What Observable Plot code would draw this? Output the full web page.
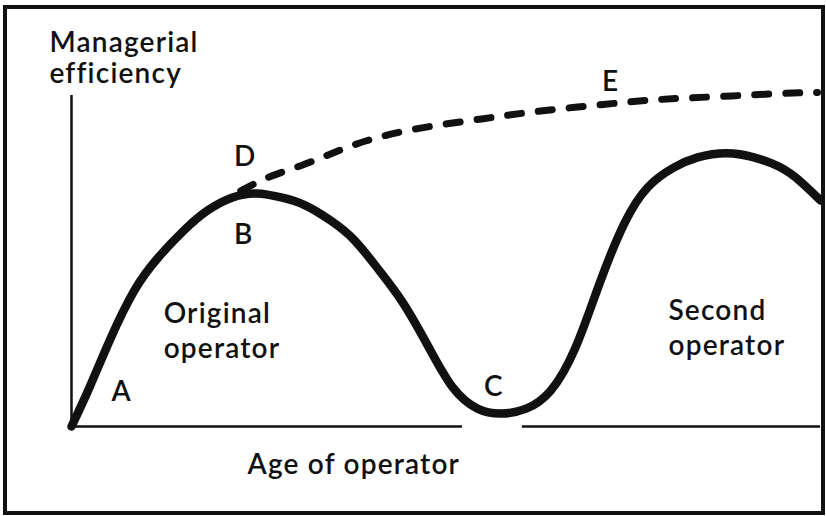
<!DOCTYPE html>
<html>
<head>
<meta charset="utf-8">
<script src="https://cdn.jsdelivr.net/npm/d3@7"></script>
<script src="https://cdn.jsdelivr.net/npm/@observablehq/plot@0.6"></script>
<style>
  html, body { margin: 0; padding: 0; background: white; }
  #wrap { position: relative; width: 826px; height: 516px; }
  #border { position: absolute; left: 3px; top: 5px; width: 814px; height: 502px; border: 4px solid #111; pointer-events: none; }
</style>
</head>
<body>
<div id="wrap"><div id="border"></div></div>
<script>
// Solid curve: original operator then second operator (age 0–100, efficiency 0–100)
const solidAge = [0, 2.4, 5.1, 8.4, 11.6, 15.0, 18.2, 21.5, 24.7, 28.0, 31.2, 34.6, 37.8, 41.1, 44.3, 47.7, 50.9, 54.2, 57.4, 60.7, 64.0, 67.3, 70.5, 73.8, 77.0, 80.4, 83.6, 88.3, 93.5, 96.7, 100];
const solidEff = [0, 11.8, 26.0, 41.1, 51.1, 59.2, 65.3, 69.2, 70.4, 69.2, 66.8, 62.2, 56.2, 47.1, 37.2, 23.9, 11.8, 5.4, 3.9, 5.4, 10.9, 23.9, 43.2, 61.3, 72.4, 78.2, 81.3, 82.5, 79.5, 75.2, 68.3];
// Dashed curve D -> E
const dashedAge = [22.6, 26.2, 30.6, 35.0, 39.5, 46.2, 55.0, 62.2, 71.0, 78.6, 86.6, 94.7, 99.6];
const dashedEff = [71.2, 75.2, 78.8, 82.7, 86.4, 90.0, 93.0, 95.2, 97.3, 98.8, 99.7, 100.6, 100.9];
// Point labels
const pointLabels = ["A", "B", "C", "D", "E"];
const pointAge = [6.7, 23.0, 56.4, 23.2, 72.0];
const pointEff = [7.6, 55.2, 9.1, 78.8, 101.5];
// Region labels
const regionLabels = ["Original\noperator", "Second\noperator"];
const regionAge = [12.3, 79.7];
const regionEff = [20.6, 21.5];
// Axis titles
const yTitle = "Managerial\nefficiency";
const xTitle = "Age of operator";
// X-axis line segments (broken near C)
const xAxisStart = [0, 60.2];
const xAxisEnd = [52.2, 100];

const solid = solidAge.map((x, i) => ({x, y: solidEff[i]}));
const dashed = dashedAge.map((x, i) => ({x, y: dashedEff[i]}));
const points = pointLabels.map((t, i) => ({t, x: pointAge[i], y: pointEff[i]}));
const regions = regionLabels.map((t, i) => ({t, x: regionAge[i], y: regionEff[i]}));
const xAxisSegs = xAxisStart.map((x1, i) => ({x1, x2: xAxisEnd[i], y: 0}));

const chart = Plot.plot({
  width: 826,
  height: 516,
  marginLeft: 71,
  marginRight: 6,
  marginTop: 95,
  marginBottom: 90,
  x: {domain: [0, 100], axis: null},
  y: {domain: [0, 100], axis: null},
  style: {fontFamily: "Lato, 'Noto Sans', sans-serif", fontSize: "28px", color: "#111", background: "transparent", letterSpacing: "1.2px"},
  marks: [
    Plot.ruleX([0], {y1: 0, y2: 100, stroke: "#111", strokeWidth: 2.5}),
    Plot.ruleY(xAxisSegs, {y: "y", x1: "x1", x2: "x2", stroke: "#111", strokeWidth: 2.5}),
    Plot.line(dashed, {x: "x", y: "y", curve: "natural", stroke: "#111", strokeWidth: 7, strokeDasharray: "14,17", strokeLinecap: "round"}),
    Plot.line(solid, {x: "x", y: "y", curve: "natural", stroke: "#111", strokeWidth: 8.5, strokeLinejoin: "round"}),
    Plot.text(points, {x: "x", y: "y", text: "t", textAnchor: "middle", lineAnchor: "bottom", fontSize: 28, fontWeight: 600, fill: "#111"}),
    Plot.text(regions, {x: "x", y: "y", text: "t", textAnchor: "start", lineAnchor: "bottom", lineHeight: 1.25, fontSize: 28, fontWeight: 600, fill: "#111"}),
    Plot.text([yTitle], {x: -2.94, y: 103.9, text: d => d, textAnchor: "start", lineAnchor: "bottom", lineHeight: 1.1, fontSize: 28, fontWeight: 600, fill: "#111"}),
    Plot.text([xTitle], {x: 23.5, y: -14.5, text: d => d, textAnchor: "start", lineAnchor: "bottom", fontSize: 28, fontWeight: 600, fill: "#111"})
  ]
});
document.getElementById("wrap").prepend(chart);
</script>
</body>
</html>
